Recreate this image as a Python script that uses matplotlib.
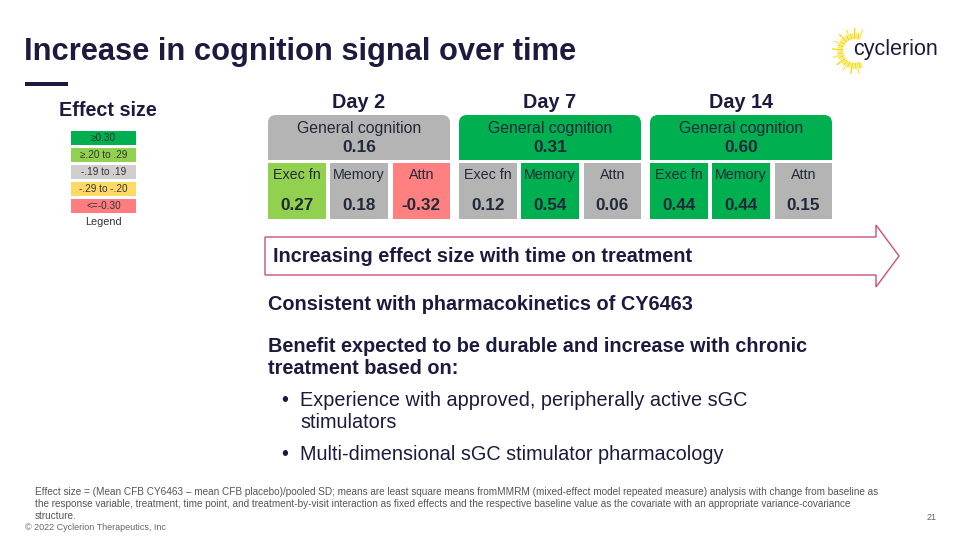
import numpy as np
import matplotlib.pyplot as plt
from matplotlib.patches import Rectangle, FancyBboxPatch, Polygon

plt.rcParams['font.family'] = ['Liberation Sans', 'DejaVu Sans']

# Data
days = ["Day 2", "Day 7", "Day 14"]
general = [0.16, 0.31, 0.60]
domains = ["Exec fn", "Memory", "Attn"]
domain_vals = [[0.27, 0.18, -0.32],
               [0.12, 0.54, 0.06],
               [0.44, 0.44, 0.15]]
legend_labels = ["\u22650.30", "\u2265.20 to .29", "-.19 to .19", "-.29 to -.20", "<=-0.30"]
legend_colors = ["#00b050", "#92d050", "#d0cece", "#ffd966", "#ff7c80"]

NAVY = "#1c1b3f"


def effect_color(v):
    if v >= 0.30:
        return "#00b050"
    if v >= 0.20:
        return "#92d050"
    if v > -0.20:
        return "#b4b4b4"
    if v > -0.30:
        return "#ffd966"
    return "#ff8080"


fig = plt.figure(figsize=(9.6, 5.4), dpi=100)
ax = fig.add_axes([0, 0, 1, 1])
ax.set_xlim(0, 960)
ax.set_ylim(540, 0)
ax.axis("off")

# Title
ax.text(24, 52, "Increase in cognition signal over time", fontsize=22.2, fontweight="bold",
        color=NAVY, va="center", ha="left")
ax.add_patch(Rectangle((25, 82), 43, 4, color=NAVY, lw=0))

# Legend
ax.text(108, 111, "Effect size", fontsize=14.2, fontweight="bold", color=NAVY, ha="center", va="center")
for i, (lab, col) in enumerate(zip(legend_labels, legend_colors)):
    y0 = 131 + i * 17
    ax.add_patch(Rectangle((71, y0), 65, 13.5, color=col, lw=0))
    ax.text(103.5, y0 + 7, lab, fontsize=7.2, color="#333333", ha="center", va="center")
ax.text(103.5, 222, "Legend", fontsize=7.8, color="#333333", ha="center", va="center")

# Day blocks
block_x = [268, 459, 650]
block_w = 182
cell_w = 57.5
gap = (block_w - 3 * cell_w) / 2
for d, x0 in enumerate(block_x):
    ax.text(x0 + block_w / 2, 102, days[d], fontsize=14.3, fontweight="bold", color=NAVY,
            ha="center", va="center")
    col = effect_color(general[d])
    ax.add_patch(FancyBboxPatch((x0, 115), block_w, 50, boxstyle="round,pad=0,rounding_size=8",
                                fc=col, ec="none"))
    ax.add_patch(Rectangle((x0, 140), block_w, 20, color=col, lw=0))
    ax.add_patch(Rectangle((x0, 160), block_w, 6, color="white", lw=0))
    ax.text(x0 + block_w / 2, 128, "General cognition", fontsize=11.4, color="#222a3a",
            ha="center", va="center")
    ax.text(x0 + block_w / 2, 147, f"{general[d]:.2f}", fontsize=12.5, fontweight="bold",
            color="#222a3a", ha="center", va="center")
    for j, name in enumerate(domains):
        cx = x0 + j * (cell_w + gap)
        v = domain_vals[d][j]
        ax.add_patch(Rectangle((cx, 163), cell_w, 56, color=effect_color(v), lw=0))
        ax.text(cx + cell_w / 2, 175, name, fontsize=10.3, color="#222a3a", ha="center", va="center")
        ax.text(cx + cell_w / 2, 205, f"{v:.2f}", fontsize=12.3, fontweight="bold",
                color="#222a3a", ha="center", va="center")

# Arrow
arrow = Polygon([(265, 237), (876, 237), (876, 225), (899, 256), (876, 287), (876, 275), (265, 275)],
                closed=True, fc="white", ec="#c8507e", lw=1)
ax.add_patch(arrow)
ax.text(273, 256, "Increasing effect size with time on treatment", fontsize=14.3, fontweight="bold",
        color=NAVY, ha="left", va="center")

# Body text
BODY = 14.3
ax.text(268, 304, "Consistent with pharmacokinetics of CY6463", fontsize=BODY, fontweight="bold",
        color=NAVY, ha="left", va="center")
ax.text(268, 346, "Benefit expected to be durable and increase with chronic", fontsize=BODY,
        fontweight="bold", color=NAVY, ha="left", va="center")
ax.text(268, 369, "treatment based on:", fontsize=BODY, fontweight="bold", color=NAVY,
        ha="left", va="center")
ax.text(281, 400, "\u2022", fontsize=BODY, color=NAVY, ha="left", va="center")
ax.text(300, 400, "Experience with approved, peripherally active sGC", fontsize=BODY,
        color=NAVY, ha="left", va="center")
ax.text(300, 423, "stimulators", fontsize=BODY, color=NAVY, ha="left", va="center")
ax.text(281, 454, "\u2022", fontsize=BODY, color=NAVY, ha="left", va="center")
ax.text(300, 454, "Multi-dimensional sGC stimulator pharmacology", fontsize=BODY,
        color=NAVY, ha="left", va="center")

# Footnote
foot = ["Effect size = (Mean CFB CY6463 \u2013 mean CFB placebo)/pooled SD; means are least square means fromMMRM (mixed-effect model repeated measure) analysis with change from baseline as",
        "the response variable, treatment, time point, and treatment-by-visit interaction as fixed effects and the respective baseline value as the covariate with an appropriate variance-covariance",
        "structure."]
for i, line in enumerate(foot):
    ax.text(35, 492 + i * 12, line, fontsize=7.2, color="#555555", ha="left", va="center")
ax.text(25, 527, "\u00a9 2022 Cyclerion Therapeutics, Inc", fontsize=6.5, color="#666666",
        ha="left", va="center")
ax.text(937, 518, "21", fontsize=6.5, color="#666666", ha="right", va="center")

# Logo
cx, cy = 855, 51
angles = np.deg2rad(np.arange(70, 300, 7))
for k, a in enumerate(angles):
    r0, r1 = 12, 18 + 5 * ((k % 3) == 0)
    ax.plot([cx + r0 * np.cos(a), cx + r1 * np.cos(a)], [cy - r0 * np.sin(a), cy - r1 * np.sin(a)],
            color="#f5d90a" if k % 2 else "#fbe85a", lw=1.0, solid_capstyle="butt")
ax.text(895, 50, "cyclerion", fontsize=15.5, color=NAVY, ha="center", va="center")

fig.savefig("out.png", dpi=100)
